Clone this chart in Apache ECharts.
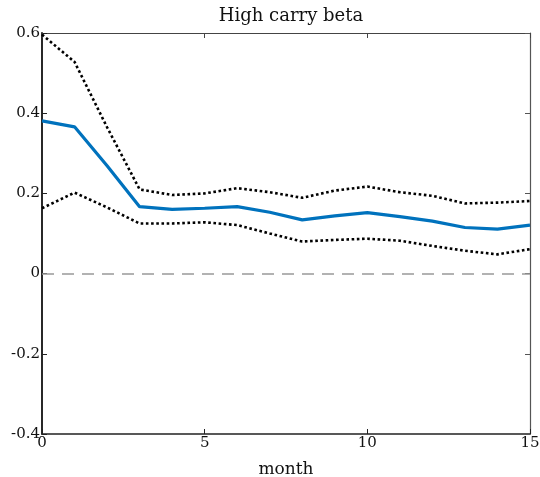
<!DOCTYPE html>
<html>
<head>
<meta charset="utf-8">
<script src="https://cdn.jsdelivr.net/npm/echarts@6/dist/echarts.min.js"></script>
<style>html,body{margin:0;padding:0;background:#fff;}#c{width:540px;height:477px;}</style>
</head>
<body>
<div id="c"></div>
<script>
var months = [0,1,2,3,4,5,6,7,8,9,10,11,12,13,14,15];
var beta = [0.381,0.366,0.269,0.167,0.160,0.163,0.167,0.153,0.134,0.144,0.152,0.142,0.131,0.115,0.111,0.121];
var upper = [0.596,0.528,0.365,0.210,0.196,0.200,0.213,0.203,0.189,0.207,0.217,0.203,0.194,0.175,0.177,0.181];
var lower = [0.163,0.202,0.165,0.125,0.125,0.128,0.121,0.100,0.080,0.084,0.087,0.082,0.069,0.057,0.048,0.061];
var xTicks = [0,5,10,15];
var yTicks = [-0.4,-0.2,0,0.2,0.4,0.6];

function pairs(arr){ return months.map(function(m,i){ return [m, arr[i]]; }); }
var font = "'DejaVu Serif', 'Liberation Serif', serif";
function yfmt(v){ var r = Math.round(v*10)/10; return r === 0 ? '0' : String(r); }

var chart = echarts.init(document.getElementById('c'));
chart.setOption({
  animation: false,
  backgroundColor: '#fff',
  title: { text: 'High carry beta', left: 286, top: 2, textAlign: 'center',
    textStyle: { fontFamily: font, fontSize: 18, fontWeight: 'normal', color: '#111' } },
  grid: { left: 42, right: 10, top: 33, bottom: 43, outerBoundsMode: 'none', containLabel: false },
  xAxis: [{
    type: 'value', min: xTicks[0], max: xTicks[xTicks.length-1], interval: 5,
    name: 'month', nameLocation: 'middle', nameGap: 27,
    nameTextStyle: { fontFamily: font, fontSize: 17, color: '#111' },
    axisLine: { show: true, onZero: false, lineStyle: { color: '#222', width: 1.5 } },
    axisTick: { show: true, inside: true, length: 5, lineStyle: { color: '#222' } },
    axisLabel: { fontFamily: font, fontSize: 15, color: '#111', margin: 2 },
    splitLine: { show: false }
  },{
    type: 'value', position: 'top', min: xTicks[0], max: xTicks[xTicks.length-1], interval: 5,
    axisLine: { show: true, onZero: false, lineStyle: { color: '#444', width: 1.2 } },
    axisTick: { show: true, inside: true, length: 5, lineStyle: { color: '#444' } },
    axisLabel: { show: false }, splitLine: { show: false }
  }],
  yAxis: [{
    type: 'value', min: yTicks[0], max: yTicks[yTicks.length-1], interval: 0.2,
    axisLine: { show: true, onZero: false, lineStyle: { color: '#111', width: 1.8 } },
    axisTick: { show: true, inside: true, length: 5, lineStyle: { color: '#222' } },
    axisLabel: { fontFamily: font, fontSize: 15, color: '#111', margin: 2, padding: [4, 0, 0, 0], formatter: yfmt },
    splitLine: { show: false }
  },{
    type: 'value', position: 'right', min: yTicks[0], max: yTicks[yTicks.length-1], interval: 0.2,
    axisLine: { show: true, onZero: false, lineStyle: { color: '#555', width: 1.2 } },
    axisTick: { show: true, inside: true, length: 5, lineStyle: { color: '#555' } },
    axisLabel: { show: false }, splitLine: { show: false }
  }],
  series: [
    { type: 'line', data: pairs(upper), symbol: 'none', z: 3,
      lineStyle: { color: '#000', width: 2.6, type: [2.6, 2.6] } },
    { type: 'line', data: pairs(lower), symbol: 'none', z: 3,
      lineStyle: { color: '#000', width: 2.6, type: [2.6, 2.6] } },
    { type: 'line', data: pairs(beta), symbol: 'none', z: 4,
      lineStyle: { color: '#0072BD', width: 3.2 },
      markLine: { silent: true, symbol: 'none', label: { show: false },
        lineStyle: { color: '#999', width: 1.5, type: [12, 8] },
        data: [{ yAxis: 0 }] } }
  ]
});
</script>
</body>
</html>
